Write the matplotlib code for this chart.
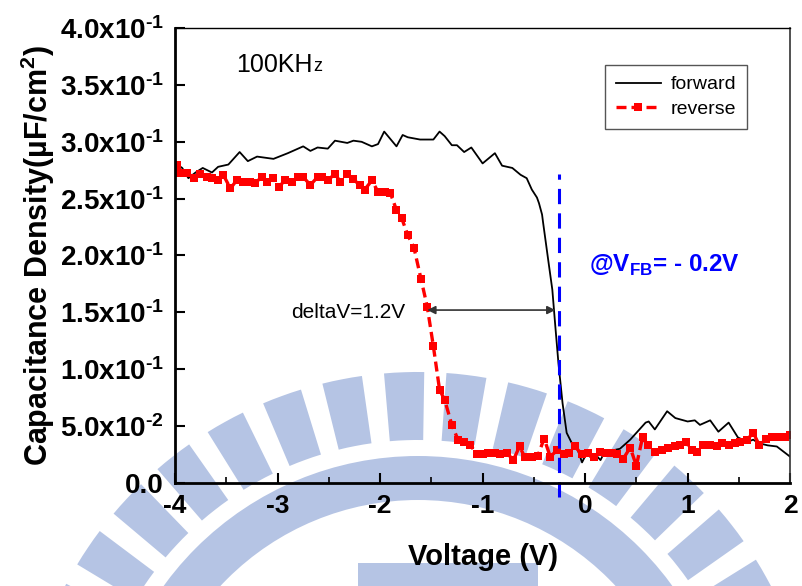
import matplotlib
matplotlib.use("Agg")
import matplotlib.pyplot as plt
from matplotlib.patches import Wedge, Rectangle
from matplotlib.ticker import MultipleLocator, FuncFormatter

plt.rcParams['font.family'] = ['Liberation Sans', 'DejaVu Sans']
plt.rcParams['mathtext.fontset'] = 'custom'
plt.rcParams['mathtext.rm'] = 'Liberation Sans'
plt.rcParams['mathtext.bf'] = 'Liberation Sans:bold'
plt.rcParams['axes.unicode_minus'] = False

# forward sweep (V, uF/cm^2)
fwd_v = [-3.98, -3.93, -3.87, -3.80, -3.73, -3.64, -3.58, -3.48, -3.37, -3.29,
         -3.20, -3.04, -2.90, -2.75, -2.68, -2.61, -2.51, -2.44, -2.32, -2.26,
         -2.18, -2.08, -2.02, -1.96, -1.84, -1.78, -1.73, -1.61, -1.48, -1.42,
         -1.37, -1.30, -1.25, -1.18, -1.11, -1.00, -0.88, -0.81, -0.71, -0.63,
         -0.57, -0.52, -0.47, -0.45, -0.42, -0.41, -0.36, -0.32, -0.29, -0.26,
         -0.22, -0.18, -0.13, -0.08, -0.03, 0.02, 0.07, 0.12, 0.15, 0.20,
         0.24, 0.29, 0.34, 0.44, 0.51, 0.59, 0.62, 0.68, 0.80, 0.88,
         1.00, 1.07, 1.12, 1.22, 1.30, 1.40, 1.49, 1.58, 1.64, 1.69,
         1.78, 1.87, 2.00]
fwd_c = [0.280, 0.277, 0.268, 0.273, 0.277, 0.273, 0.278, 0.280, 0.291, 0.283,
         0.287, 0.285, 0.290, 0.296, 0.292, 0.295, 0.294, 0.301, 0.299, 0.301,
         0.300, 0.296, 0.298, 0.309, 0.296, 0.306, 0.304, 0.302, 0.302, 0.309,
         0.305, 0.297, 0.297, 0.291, 0.295, 0.281, 0.290, 0.279, 0.277, 0.271,
         0.268, 0.258, 0.251, 0.246, 0.236, 0.229, 0.196, 0.170, 0.137, 0.105,
         0.070, 0.044, 0.035, 0.031, 0.018, 0.027, 0.020, 0.023, 0.020, 0.029,
         0.026, 0.029, 0.030, 0.038, 0.045, 0.053, 0.054, 0.047, 0.063, 0.057,
         0.054, 0.055, 0.051, 0.055, 0.045, 0.053, 0.040, 0.036, 0.038, 0.035,
         0.033, 0.032, 0.023]

# reverse sweep
rev_v = [-3.98, -3.95, -3.88, -3.82, -3.76, -3.69, -3.64, -3.58, -3.53, -3.46,
         -3.40, -3.34, -3.27, -3.22, -3.15, -3.10, -3.04, -2.99, -2.93, -2.86,
         -2.80, -2.75, -2.68, -2.61, -2.57, -2.51, -2.44, -2.39, -2.32, -2.26,
         -2.20, -2.15, -2.08, -2.02, -1.95, -1.90, -1.84, -1.79, -1.73, -1.67,
         -1.60, -1.54, -1.48, -1.42, -1.37, -1.30, -1.24, -1.18, -1.12, -1.05,
         -1.00, -0.95, -0.88, -0.83, -0.76, -0.70, -0.64, -0.59, -0.52, -0.46,
         -0.40, -0.34, -0.27, -0.21, -0.16, -0.10, -0.03, 0.03, 0.09, 0.15,
         0.20, 0.26, 0.31, 0.37, 0.44, 0.50, 0.56, 0.61, 0.68, 0.75,
         0.81, 0.88, 0.93, 0.98, 1.04, 1.09, 1.15, 1.22, 1.29, 1.34,
         1.40, 1.46, 1.51, 1.58, 1.64, 1.70, 1.76, 1.82, 1.88, 1.95, 2.00]
rev_c = [0.280, 0.273, 0.273, 0.268, 0.272, 0.269, 0.268, 0.266, 0.271, 0.259,
         0.266, 0.265, 0.265, 0.264, 0.269, 0.265, 0.268, 0.260, 0.266, 0.265,
         0.269, 0.269, 0.262, 0.269, 0.269, 0.266, 0.272, 0.265, 0.272, 0.267,
         0.262, 0.258, 0.266, 0.256, 0.256, 0.255, 0.240, 0.233, 0.218, 0.207,
         0.179, 0.155, 0.120, 0.082, 0.073, 0.051, 0.038, 0.036, 0.033, 0.025,
         0.025, 0.026, 0.026, 0.025, 0.026, 0.020, 0.032, 0.023, 0.023, 0.024,
         0.039, 0.023, 0.029, 0.025, 0.026, 0.032, 0.025, 0.026, 0.023, 0.027,
         0.026, 0.026, 0.025, 0.021, 0.031, 0.015, 0.040, 0.033, 0.027, 0.029,
         0.031, 0.032, 0.033, 0.036, 0.029, 0.027, 0.033, 0.033, 0.032, 0.035,
         0.033, 0.035, 0.036, 0.038, 0.044, 0.033, 0.039, 0.040, 0.040, 0.040, 0.042]

v_fb = -0.25
delta_start, delta_end, delta_level = -1.54, -0.29, 0.152

fig = plt.figure(figsize=(8.03, 5.86), dpi=100)
ax = fig.add_axes([0.218, 0.176, 0.766, 0.776])
ax.patch.set_visible(False)

# faded gear-shaped watermark behind the plot (figure inches)
wm_color = '#b5c4e4'
wm_center = (4.18, -1.84)
for k in range(-10, 11):
    mid = 92 + 9 * k
    fig.add_artist(Wedge(wm_center, 3.98, mid - 2.9, mid + 2.9, width=0.68,
                         color=wm_color, lw=0, zorder=-2,
                         transform=fig.dpi_scale_trans))
fig.add_artist(Wedge(wm_center, 3.14, 0, 180, width=0.44, color=wm_color,
                     lw=0, zorder=-2, transform=fig.dpi_scale_trans))
fig.add_artist(Rectangle((3.58, 0.0), 1.8, 0.23, color=wm_color, lw=0,
                         zorder=-2, transform=fig.dpi_scale_trans))

ax.plot(fwd_v, fwd_c, color='black', lw=1.3, label='forward')
ax.plot(rev_v, rev_c, color='red', lw=2.4, ls=(0, (3, 1.5)), marker='s',
        markersize=5.5, markeredgewidth=0, label='reverse')

ax.plot([v_fb, v_fb], [-0.012, 0.272], color='blue', lw=2.2,
        ls=(0, (5, 3)), clip_on=False)

ax.annotate('', xy=(delta_start, delta_level), xytext=(delta_end, delta_level),
            arrowprops=dict(arrowstyle='<|-|>', color='#333333', lw=1.2,
                            mutation_scale=12, shrinkA=0, shrinkB=0))
ax.text(-1.75, 0.150, 'deltaV=1.2V', fontsize=15, ha='right', va='center')

freq = ax.text(-3.4, 0.357, '100KH', fontsize=18, ha='left', va='bottom')
ax.annotate('z', xy=(1, 0), xycoords=freq, xytext=(0, 1.2),
            textcoords='offset points', fontsize=13, ha='left', va='bottom')

ax.text(0.04, 0.191, r'@V$_{\mathbf{FB}}$= - 0.2V', color='blue', fontsize=17.5,
        fontweight='bold', ha='left', va='center')

ax.set_xlim(-4, 2)
ax.set_ylim(0, 0.4)
ax.xaxis.set_major_locator(MultipleLocator(1))
ax.xaxis.set_minor_locator(MultipleLocator(0.5))
ax.yaxis.set_major_locator(MultipleLocator(0.05))


def cap_fmt(val, pos):
    if abs(val) < 1e-9:
        return '0.0'
    exp = -1 if val >= 0.0999 else -2
    mant = val / 10 ** exp
    # plain hyphen in the exponent rather than a math minus
    return '$\\mathbf{%.1fx10^{\u2010%d}}$' % (mant, -exp)


ax.yaxis.set_major_formatter(FuncFormatter(cap_fmt))
ax.tick_params(axis='both', which='major', direction='in', length=7, width=1.5,
               labelsize=19)
ax.tick_params(axis='y', labelsize=20, pad=8)
ax.tick_params(axis='x', which='minor', direction='in', length=4, width=1.2)
ax.tick_params(axis='x', pad=8)
for lab in ax.get_xticklabels() + ax.get_yticklabels():
    lab.set_fontweight('bold')

ax.spines['left'].set_linewidth(2)
ax.spines['bottom'].set_linewidth(2)
ax.spines['top'].set_linewidth(1)
ax.spines['right'].set_linewidth(1.2)
ax.spines['right'].set_color('#333333')

ax.set_xlabel('Voltage (V)', fontsize=21, fontweight='bold', labelpad=18)
ax.set_ylabel(r'Capacitance Density(µF/cm$^{\mathbf{2}}$)', fontsize=22,
              fontweight='bold', labelpad=2)

leg = ax.legend(loc='upper right', bbox_to_anchor=(0.945, 0.94), fontsize=14,
                numpoints=1, fancybox=False, edgecolor='#555555',
                framealpha=1, handlelength=2.3, borderpad=0.55,
                labelspacing=0.35, handletextpad=0.5)
leg.get_frame().set_linewidth(1)

fig.savefig('out.png', dpi=100)
